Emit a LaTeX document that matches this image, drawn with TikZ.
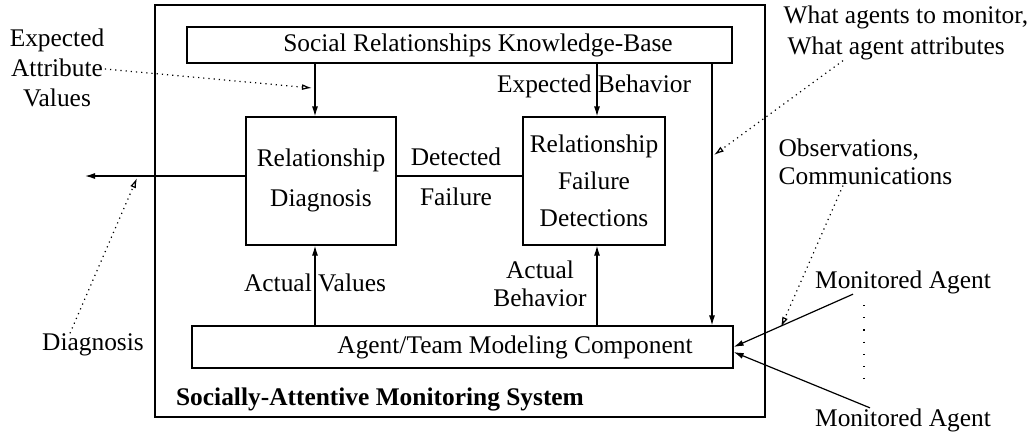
\documentclass[tikz,border=0pt]{standalone}
\usepackage{fontspec}
\setmainfont{Liberation Serif}
\usetikzlibrary{arrows.meta}
\begin{document}
\begin{tikzpicture}[x = .5pt, y = -.5pt, line width = .6pt,
	font = \fontsize{12.7}{15}\selectfont,
	block/.style = {draw, inner sep = 0},
	flow/.style = {-{Latex[length = 5pt, width = 3pt]}},
	hint/.style = {dotted, -{Latex[open, length = 5pt, width = 3pt]}}]
	\def\tag{node [align = center, inner sep = 0] }
	\useasboundingbox (0, 0) rectangle (1032, 436);

	\draw (460, 211) node [block, minimum width = 305pt, minimum height = 206pt] (sys) {};
	\draw (459.5, 45) node [block, minimum width = 272.5pt, minimum height = 18pt] (kb) {};
	\draw (321, 181) node [block, minimum width = 75pt, minimum height = 64pt] (diag) {};
	\draw (594, 181) node [block, minimum width = 71pt, minimum height = 64pt] (detect) {};
	\draw (462.5, 347) node [block, minimum width = 270.5pt, minimum height = 21pt] (model) {};

	\draw (478, 45) \tag (kbtext) {Social Relationships Knowledge-Base};
	\draw (515, 347) \tag (modeltext) {Agent/Team Modeling Component};
	\draw (321, 180) \tag (diagtext) {Relationship\\[5pt]Diagnosis};
	\draw (594, 181) \tag (detecttext) {Relationship\\[3.5pt]Failure\\[3.5pt]Detections};
	\draw (380, 399) \tag (systext) {\bfseries Socially-Attentive Monitoring System};

	\draw (456, 177) \tag (failtext) {Detected\\[5pt]Failure};
	\draw (594, 86) \tag (expbeh) {Expected Behavior};
	\draw (315, 283) \tag (actval) {Actual Values};
	\draw (540, 284) \tag (actbeh) {Actual\\[-1pt]Behavior};
	\draw (57, 68) \tag (expattr) {Expected\\Attribute\\Values};
	\draw (783, 33) node [anchor = west, align = left, inner sep = 0] (whatmon) {What agents to monitor,\\[.5pt]\hspace{2pt}What agent attributes};
	\draw (778, 162) node [anchor = west, align = left, inner sep = 0] (obs) {Observations,\\[-1pt]Communications};
	\draw (93, 345) \tag (diagout) {Diagnosis};
	\draw (903, 282) \tag (agent1) {Monitored Agent};
	\draw (903, 420) \tag (agent2) {Monitored Agent};

	\coordinate (out) at (85, 176);
	\coordinate (expend) at (312, 88);
	\coordinate (monend) at (714, 155);
	\coordinate (obsend) at (781, 327);
	\coordinate (diagend) at (137, 178);
	\coordinate (dots1) at (864, 305);
	\coordinate (dots2) at (864, 390);

	\draw[flow] (kb.south -| 315, 0) -- (diag.north -| 315, 0);
	\draw[flow] (kb.south -| 597, 0) -- (detect.north -| 597, 0);
	\draw[flow] (kb.south -| 712, 0) -- (model.north -| 712, 0);
	\draw[flow] (model.north -| 315, 0) -- (diag.south -| 315, 0);
	\draw[flow] (model.north -| 597, 0) -- (detect.south -| 597, 0);
	\draw (detect.west |- 0, 176) -- (diag.east |- 0, 176);
	\draw[flow] (diag.west |- 0, 176) -- (out);
	\draw[flow] (agent1.south -| 853, 0) -- (model.east |- 0, 347);
	\draw[flow] (agent2.north -| 870, 0) -- (model.east |- 0, 352);

	\draw[hint] (expattr.east |- 0, 69) -- (expend);
	\draw[hint] (whatmon.south -| 843, 0) -- (monend);
	\draw[hint] (obs.south -| 843, 0) -- (obsend);
	\draw[hint] (diagout.north -| 70, 0) -- (diagend);
	\draw[dash pattern = on .6pt off 5.5pt] (dots1) -- (dots2);
\end{tikzpicture}
\end{document}
